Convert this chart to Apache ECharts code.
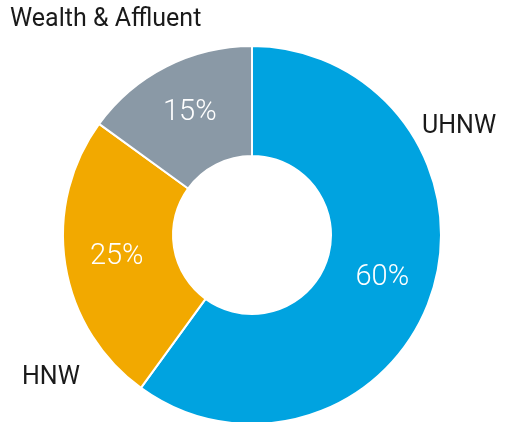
<!DOCTYPE html>
<html>
<head>
<meta charset="utf-8">
<script src="https://cdn.jsdelivr.net/npm/echarts@6/dist/echarts.min.js"></script>
<style>html,body{margin:0;padding:0;background:#fff;}#c{width:509px;height:422px;}</style>
</head>
<body>
<div id="c"></div>
<script>
const categories = ['UHNW', 'HNW', 'Wealth & Affluent'];
const values = [60, 25, 15];
const colors = ['#00A3E0', '#F2A900', '#8A99A6'];
// label anchor points (left x, middle y) for the category names
const nameAnchors = [[422, 127], [22, 378], [10, 20]];

const data = categories.map((n, i) => ({ name: n, value: values[i], itemStyle: { color: colors[i] } }));
const chart = echarts.init(document.getElementById('c'), null, { renderer: 'canvas' });
chart.setOption({
  animation: false,
  series: [
    {
      type: 'pie',
      center: [252, 235],
      radius: [79, 189],
      startAngle: 90,
      clockwise: true,
      data: data,
      itemStyle: { borderColor: '#fff', borderWidth: 2 },
      label: {
        show: true, position: 'inside', formatter: '{c}%',
        color: '#fff', fontSize: 29, fontFamily: 'Roboto', fontWeight: 300
      },
      labelLine: { show: false },
      silent: true
    },
    {
      type: 'pie',
      center: [252, 235],
      radius: [79, 189],
      startAngle: 90,
      clockwise: true,
      avoidLabelOverlap: false,
      data: categories.map((n, i) => ({ name: n, value: values[i] })),
      itemStyle: { color: 'rgba(0,0,0,0)', borderWidth: 0 },
      label: {
        show: true, position: 'outside', formatter: '{b}', overflow: 'none',
        alignTo: 'none', bleedMargin: 0,
        color: '#1a1a1a', fontSize: 25, fontFamily: 'Roboto', fontWeight: 400
      },
      labelLine: { show: false },
      labelLayout: function (p) {
        const a = nameAnchors[p.dataIndex];
        return { x: a[0], y: a[1], align: 'left', verticalAlign: 'middle', hideOverlap: false, moveOverlap: null };
      },
      silent: true
    }
  ]
});
</script>
</body>
</html>
